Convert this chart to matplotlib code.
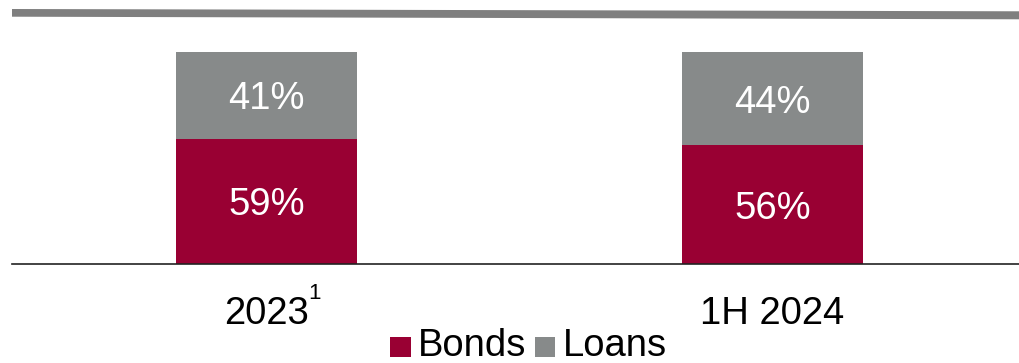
import matplotlib
matplotlib.use("Agg")
import matplotlib.pyplot as plt
from matplotlib.patches import Polygon, Rectangle
from matplotlib.transforms import blended_transform_factory

plt.rcParams['font.family'] = ['Liberation Sans', 'DejaVu Sans']

categories = ["2023", "1H 2024"]
superscripts = ["1", ""]
bonds = [59, 56]
loans = [41, 44]
series_names = ["Bonds", "Loans"]

BOND_COLOR = "#990033"
LOAN_COLOR = "#878A8A"
FS = 27.5

W, H = 1020, 363
fig = plt.figure(figsize=(W / 100, H / 100), dpi=100)

ax = fig.add_axes([12 / W, (H - 264) / H, (W - 12) / W, 234 / H])
x = list(range(len(categories)))
width = 0.358
ax.bar(x, bonds, width, color=BOND_COLOR, linewidth=0)
ax.bar(x, loans, width, bottom=bonds, color=LOAN_COLOR, linewidth=0)

for xi, b, l in zip(x, bonds, loans):
    ax.text(xi, b / 2, f"{b}%", ha="center", va="center_baseline", color="white", fontsize=FS)
    ax.text(xi, b + l / 2, f"{l}%", ha="center", va="center_baseline", color="white", fontsize=FS)

ax.set_xlim(-0.503, 0.489 + 1)
ax.set_ylim(0, 110.4)
ax.set_yticks([])
ax.set_xticks([])
for side in ("top", "right", "left"):
    ax.spines[side].set_visible(False)
ax.spines["bottom"].set_linewidth(1.2)
ax.spines["bottom"].set_color("#222222")

# category labels below the axis
trans = blended_transform_factory(ax.transData, fig.transFigure)
for xi, cat, sup in zip(x, categories, superscripts):
    ax.text(xi, 1 - 310 / H, cat, ha="center", va="center_baseline", fontsize=FS,
            transform=trans, color="black")
    if sup:
        fig.text(314 / W, 1 - 291 / H, sup, ha="center", va="center_baseline",
                 fontsize=16, color="black")

# legend
base = 1 - 355.5 / H
fig.patches.append(Rectangle((390 / W, 1 - 357 / H), 21 / W, 20 / H,
                             transform=fig.transFigure, color=BOND_COLOR, linewidth=0))
fig.text(418 / W, base, series_names[0], color="black", fontsize=FS, ha="left", va="baseline")
fig.patches.append(Rectangle((535 / W, 1 - 357 / H), 20 / W, 20 / H,
                             transform=fig.transFigure, color=LOAN_COLOR, linewidth=0))
fig.text(563 / W, base, series_names[1], color="black", fontsize=FS, ha="left", va="baseline")

# header rule
band = Polygon([(12 / W, 1 - 9 / H), (1, 1 - 11.3 / H),
                (1, 1 - 19.3 / H), (12 / W, 1 - 16.7 / H)],
               closed=True, transform=fig.transFigure, color="#7F7F7F", linewidth=0)
fig.patches.append(band)

fig.savefig("out.png", dpi=100)
